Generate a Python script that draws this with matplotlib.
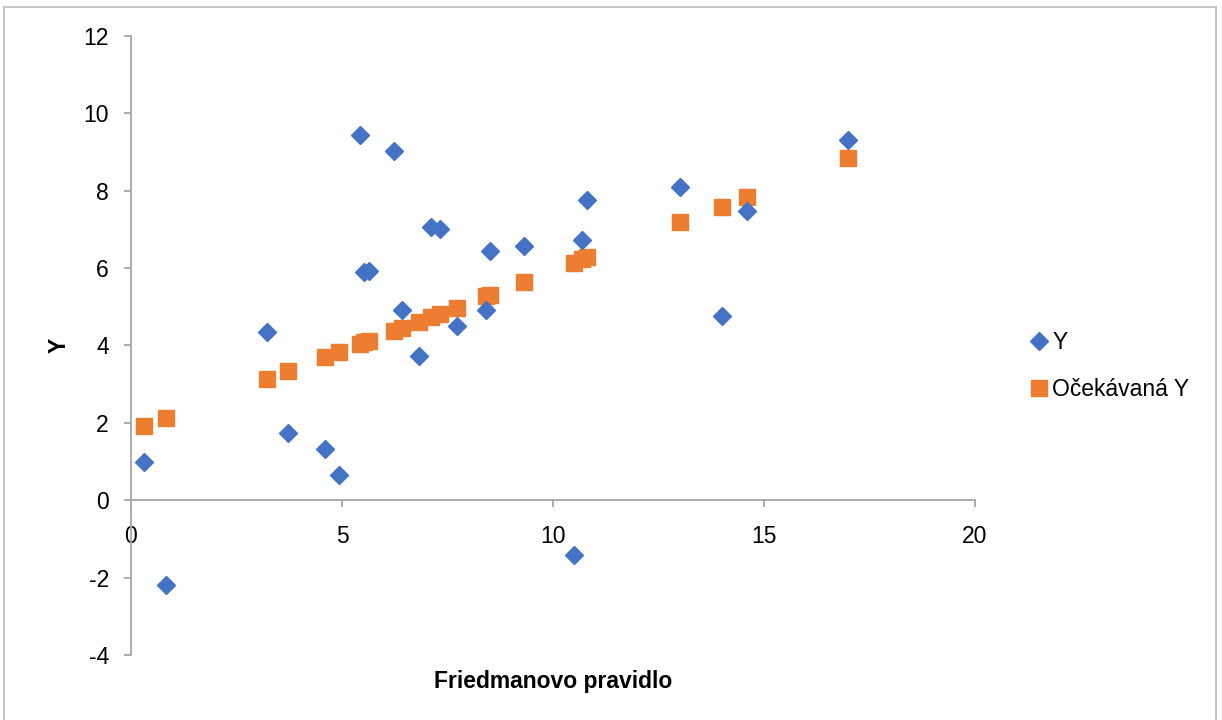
import matplotlib.pyplot as plt
from matplotlib.patches import Rectangle

# data
friedman_x = [0.31, 0.83, 3.22, 3.72, 4.60, 4.93, 5.43, 5.52, 5.64, 6.23, 6.42, 6.82,
              7.11, 7.32, 7.73, 8.41, 8.50, 9.31, 10.50, 10.69, 10.80, 13.00, 14.00,
              14.60, 17.00]
y_actual = [0.98, -2.20, 4.34, 1.73, 1.32, 0.65, 9.43, 5.89, 5.92, 9.04, 4.91, 3.72,
            7.05, 7.00, 4.50, 4.91, 6.43, 6.56, -1.42, 6.72, 7.75, 8.09, 4.75,
            7.47, 9.30]
y_expected = [1.91, 2.12, 3.13, 3.33, 3.70, 3.82, 4.03, 4.08, 4.11, 4.37, 4.44, 4.60,
              4.73, 4.81, 4.96, 5.27, 5.30, 5.64, 6.13, 6.23, 6.28, 7.18, 7.59,
              7.83, 8.84]

x_ticks = [0, 5, 10, 15, 20]
y_ticks = [-4, -2, 0, 2, 4, 6, 8, 10, 12]

plt.rcParams["font.family"] = ["Liberation Sans", "DejaVu Sans"]
plt.rcParams["axes.unicode_minus"] = False

fig = plt.figure(figsize=(12.22, 7.2), dpi=100)
ax = fig.add_axes([0.1072, 0.0903, 0.6907, 0.8597])

# expected values first, actual values on top
ax.plot(friedman_x, y_actual, linestyle="none", marker="D", markersize=9,
        color="#4472C4", label="Y", zorder=3)
ax.plot(friedman_x, y_expected, linestyle="none", marker="s", markersize=12,
        color="#ED7D31", label="Očekávaná Y", zorder=2)

ax.set_xlim(0, 20)
ax.set_ylim(-4, 12)
ax.set_xticks(x_ticks)
ax.set_yticks(y_ticks)

# excel-like axes: left axis line and a zero line carrying the x ticks
ax.spines["top"].set_visible(False)
ax.spines["right"].set_visible(False)
ax.spines["bottom"].set_position(("data", 0))
for side in ["left", "bottom"]:
    ax.spines[side].set_color("#A6A6A6")
    ax.spines[side].set_linewidth(1.3)
ax.tick_params(axis="y", length=5, width=1.3, color="#A6A6A6", pad=11, labelsize=16.5)
ax.tick_params(axis="x", length=5, width=1.3, color="#A6A6A6", pad=13, labelsize=16.5)

ax.set_xlabel("Friedmanovo pravidlo", fontsize=16.5, fontweight="bold")
ax.xaxis.set_label_coords(0.5, -0.025)
ax.set_ylabel("Y", fontsize=16.5, fontweight="bold")
ax.yaxis.set_label_coords(-0.072, 0.5)

fig.legend(loc="upper left", bbox_to_anchor=(0.833, 0.553), frameon=False,
           fontsize=16.5, handletextpad=0.1, labelspacing=1.05, handlelength=1.0,
           borderaxespad=0)

# light gray frame round the whole chart
fig.patches.append(Rectangle((0.003, -0.01), 0.992, 1.0, transform=fig.transFigure,
                             fill=False, edgecolor="#BFBFBF", linewidth=1.3))

fig.savefig("out.png", dpi=100)
plt.close(fig)
